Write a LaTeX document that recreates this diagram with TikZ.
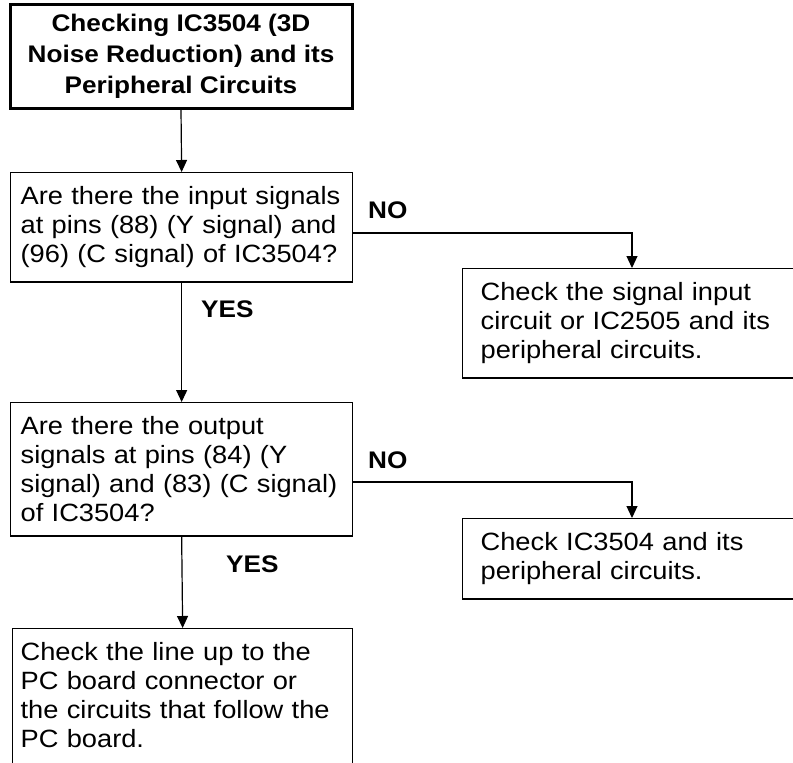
\documentclass[tikz,border=0pt]{standalone}
\usepackage{fontspec}
\setmainfont{Liberation Sans}[FakeStretch=1.09]
\usetikzlibrary{arrows.meta}

\newcommand{\boxfont}{\fontsize{25}{29}\selectfont}
\newcommand{\headfont}{\fontsize{24}{31}\selectfont\bfseries}

\begin{document}
\begin{tikzpicture}[x=1pt, y=-1pt,
    stepbox/.style={draw, line width=1.3pt, align=left, font=\boxfont,
        inner xsep=10pt, inner ysep=14pt},
    answer/.style={font=\fontsize{24}{24}\selectfont\bfseries,
        anchor=base west, inner sep=0pt},
    flow/.style={line width=1.2pt, -{Triangle[width=11pt,length=12pt]}}]

    % Canvas (pixel units, y pointing down)
    \useasboundingbox (0,0) rectangle (793,763);
    \clip (0,0) rectangle (793,763);

    % Title box
    \node[draw, line width=3pt, align=center, font=\headfont,
        minimum width=342pt, minimum height=104pt] (start) at (181,56)
        {Checking IC3504 (3D\\Noise Reduction) and its\\Peripheral Circuits};

    % Left column: questions and final check
    \node[stepbox, anchor=north west, text width=322pt] (askin) at (10,172)
        {Are there the input signals\\at pins (88) (Y signal) and\\(96) (C signal) of IC3504?};
    \node[stepbox, anchor=north west, text width=322pt] (askout) at (10,402)
        {Are there the output\\signals at pins (84) (Y\\signal) and (83) (C signal)\\of IC3504?};
    \node[stepbox, anchor=north west, text width=324pt, inner xsep=8pt] (line) at (12,628)
        {Check the line up to the\\PC board connector or\\the circuits that follow the\\PC board.\rule[-40pt]{0pt}{40pt}};

    % Right column: checks on NO (run off the page edge)
    \node[stepbox, anchor=north west, text width=400pt, inner xsep=18pt] (fixin) at (462,268)
        {Check the signal input\\circuit or IC2505 and its\\peripheral circuits.};
    \node[stepbox, anchor=north west, text width=400pt, inner xsep=18pt] (fixic) at (462,518)
        {Check IC3504 and its\\peripheral circuits.};

    % Bends of the NO connectors
    \coordinate (turn1) at (632,233);
    \coordinate (turn2) at (632,482);

    % Connectors
    \draw[flow] (start.south) -- (askin.north);
    \draw[flow] (askin.south) -- (askout.north);
    \draw[flow] (askout.south) -- (line.north);
    \draw[flow] (askin.east |- turn1) -- (turn1) -- (turn1 |- fixin.north);
    \draw[flow] (askout.east |- turn2) -- (turn2) -- (turn2 |- fixic.north);

    % Answer labels
    \node[answer] (no1) at (368,218) {NO};
    \node[answer] (yes1) at (201,317) {YES};
    \node[answer] (no2) at (368,468) {NO};
    \node[answer] (yes2) at (226,572) {YES};
\end{tikzpicture}
\end{document}
